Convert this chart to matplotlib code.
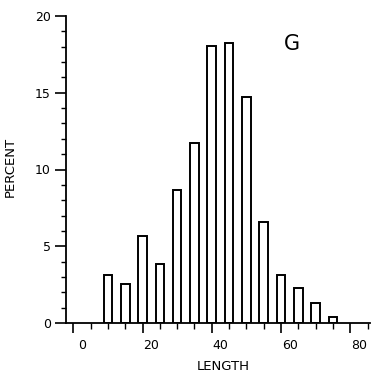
import matplotlib
matplotlib.use("Agg")
import matplotlib.pyplot as plt
import numpy as np

# Data
bin_centers = [7.5, 12.5, 17.5, 22.5, 27.5, 32.5, 37.5, 42.5, 47.5, 52.5, 57.5, 62.5, 67.5, 72.5]
percent = [3.15, 2.55, 5.65, 3.85, 8.65, 11.7, 18.05, 18.25, 14.75, 6.55, 3.15, 2.3, 1.3, 0.4]
x_labels = [0, 20, 40, 60, 80]
y_labels = [0, 5, 10, 15, 20]
panel_letter = "G"

plt.rcParams['font.family'] = ['DejaVu Sans']

fig = plt.figure(figsize=(3.73, 3.77), dpi=100)
ax = fig.add_axes([66/373, 1-323/377, (370-66)/373, (323-16)/377])

ax.bar(bin_centers, percent, width=2.5, facecolor='white', edgecolor='black', linewidth=1.4)

ax.set_xlim(-4.6, 83.2)
ax.set_ylim(0, 20)

for s in ['top', 'right']:
    ax.spines[s].set_visible(False)
for s in ['left', 'bottom']:
    ax.spines[s].set_linewidth(1.3)

# y ticks
ax.set_yticks(y_labels)
ax.set_yticks(np.arange(0, 21, 1), minor=True)
ax.tick_params(axis='y', which='major', length=8, width=1.2, labelsize=9, pad=3)
ax.tick_params(axis='y', which='minor', length=3.8, width=1.0)

# x ticks: marks at bin centres, longer every 20
ax.set_xticks(np.arange(-2.5, 80, 20))
ax.set_xticks(np.arange(-2.5, 83, 5), minor=True)
ax.tick_params(axis='x', which='major', length=7.5, width=1.2, labelbottom=False)
ax.tick_params(axis='x', which='minor', length=4.5, width=1.0)

sec = ax.secondary_xaxis('bottom')
sec.set_xticks(x_labels)
sec.tick_params(axis='x', length=0, labelsize=9, pad=11.5)
sec.spines['bottom'].set_visible(False)

ax.set_xlabel('LENGTH', fontsize=9.5, labelpad=0)
sec.set_xlabel('')
ax.xaxis.set_label_coords((223-66)/(370-66), -(360-323)/307)
ax.set_ylabel('PERCENT', fontsize=9.5)
ax.yaxis.set_label_coords(-(66-17)/304, (323-167)/307)

fig.text(291.7/373, 1-44/377, panel_letter, fontsize=15, ha='center', va='center')

fig.savefig('out.png', dpi=100)
